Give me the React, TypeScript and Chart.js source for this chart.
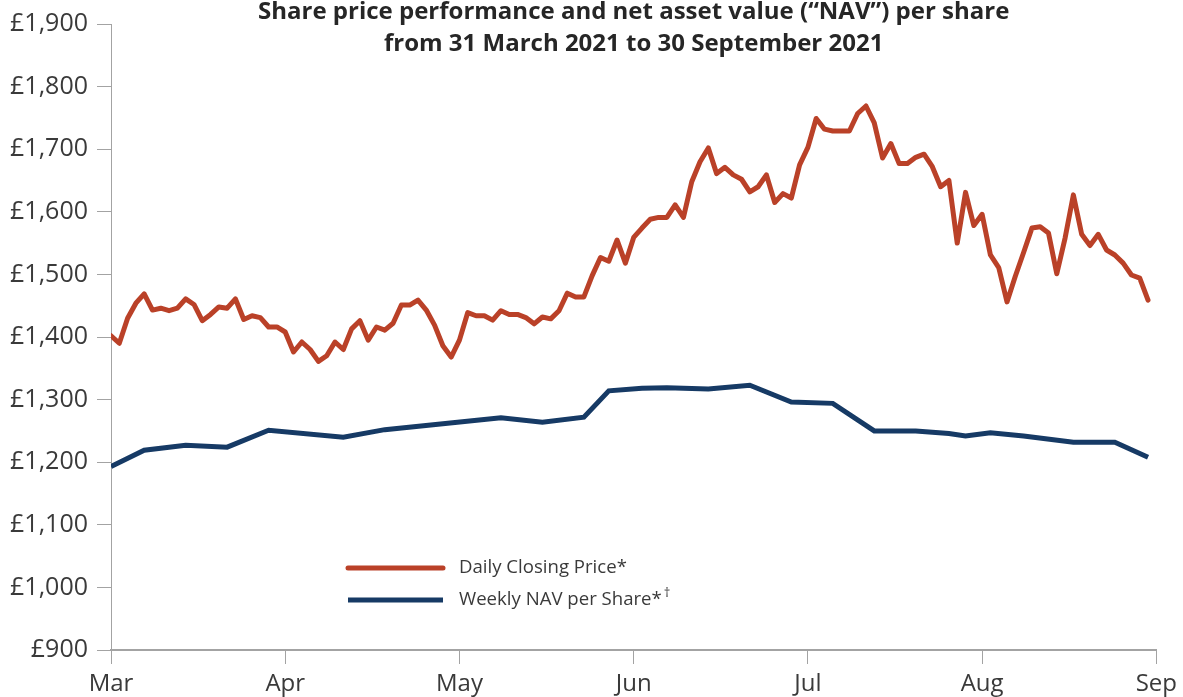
import React, { useEffect, useRef } from 'react';
import { Chart, registerables } from 'chart.js';

Chart.register(...registerables);

// ---- Data ----
const MONTH_LABELS = ['Mar', 'Apr', 'May', 'Jun', 'Jul', 'Aug', 'Sep'];
const TRADING_DAYS_PER_MONTH = 21;
const X_MAX = 126;
const Y_MIN = 900;
const Y_MAX = 1900;
const Y_STEP = 100;

const TITLE_LINES = [
  'Share price performance and net asset value (\u201CNAV\u201D) per share',
  'from 31 March 2021 to 30 September 2021',
];

const PRICE_LABEL = 'Daily Closing Price*';
const NAV_LABEL = 'Weekly NAV per Share*\u2020';

// Daily closing price, one value per trading day (index 0..125)
const PRICE = [
  1402, 1390, 1430, 1454, 1469, 1443, 1446, 1442, 1446, 1461,
  1452, 1426, 1436, 1448, 1446, 1461, 1428, 1434, 1431, 1416,
  1416, 1408, 1376, 1392, 1380, 1361, 1370, 1392, 1380, 1413,
  1426, 1395, 1416, 1411, 1422, 1451, 1451, 1459, 1443, 1419,
  1386, 1368, 1395, 1439, 1434, 1434, 1427, 1442, 1436, 1436,
  1431, 1421, 1432, 1429, 1442, 1470, 1464, 1464, 1498, 1527,
  1521, 1555, 1518, 1559, 1574, 1588, 1591, 1591, 1611, 1591,
  1648, 1680, 1702, 1661, 1671, 1659, 1652, 1632, 1640, 1659,
  1615, 1629, 1622, 1675, 1703, 1749, 1732, 1729, 1729, 1729,
  1757, 1769, 1742, 1686, 1709, 1677, 1677, 1687, 1692, 1672,
  1640, 1650, 1550, 1631, 1578, 1596, 1531, 1511, 1456, 1497,
  1535, 1574, 1576, 1566, 1501, 1558, 1627, 1564, 1546, 1564,
  1539, 1531, 1518, 1499, 1494, 1459,
];

// Weekly NAV: trading-day index and value
const NAV_DAY = [0, 4, 9, 14, 19, 28, 33, 47, 52, 57, 60, 64, 67, 72, 77, 82, 87, 92, 97, 101, 103, 106, 110, 116, 121, 125];
const NAV = [1193, 1219, 1227, 1224, 1251, 1240, 1252, 1271, 1264, 1272, 1314, 1318, 1319, 1317, 1323, 1296, 1294, 1250, 1250, 1246, 1242, 1247, 1242, 1232, 1232, 1208];

// ---- Styles ----
const RED = '#BA4128';
const BLUE = '#163A65';
const AXIS_GRAY = '#A3A3A3';
const TEXT_COLOR = '#3A3A3A';
const TITLE_COLOR = '#262626';
const FONT_FAMILY = '"Open Sans", "Noto Sans", sans-serif';

const overlayPlugin = {
  id: 'overlay',
  afterDraw(chart: any) {
    const { ctx, chartArea } = chart;
    ctx.save();
    // Title
    ctx.fillStyle = TITLE_COLOR;
    ctx.font = `bold 24px ${FONT_FAMILY}`;
    ctx.textAlign = 'center';
    ctx.textBaseline = 'alphabetic';
    const cx = (chartArea.left + chartArea.right) / 2;
    TITLE_LINES.forEach((t, i) => ctx.fillText(t, cx, 19 + i * 32));

    // Legend
    const lx0 = chartArea.left + 237;
    const lx1 = chartArea.left + 332;
    const tx = chartArea.left + 348;
    chart.data.datasets.forEach((ds: any, i: number) => {
      const y = 568 + i * 32;
      ctx.strokeStyle = ds.borderColor;
      ctx.lineWidth = 5;
      ctx.lineCap = i === 0 ? 'round' : 'butt';
      ctx.beginPath();
      ctx.moveTo(lx0, y);
      ctx.lineTo(lx1, y);
      ctx.stroke();
      ctx.fillStyle = TEXT_COLOR;
      ctx.textAlign = 'left';
      ctx.textBaseline = 'middle';
      ctx.font = `18.6px ${FONT_FAMILY}`;
      let label: string = ds.label;
      let sup = '';
      if (label.endsWith('\u2020')) {
        sup = '\u2020';
        label = label.slice(0, -1);
      }
      ctx.fillText(label, tx, y);
      if (sup) {
        const w = ctx.measureText(label).width;
        ctx.font = `13px ${FONT_FAMILY}`;
        ctx.fillText(sup, tx + w + 2, y - 7);
      }
    });
    ctx.restore();
  },
};

export default function App() {
  const canvasRef = useRef<HTMLCanvasElement | null>(null);

  useEffect(() => {
    const canvas = canvasRef.current;
    if (!canvas) return;
    const chart = new Chart(canvas, {
      type: 'line',
      data: {
        datasets: [
          {
            label: PRICE_LABEL,
            data: PRICE.map((v, i) => ({ x: i, y: v })),
            borderColor: RED,
            backgroundColor: RED,
            borderWidth: 5,
            pointRadius: 0,
            tension: 0,
            borderJoinStyle: 'round',
            borderCapStyle: 'round',
          },
          {
            label: NAV_LABEL,
            data: NAV_DAY.map((d, i) => ({ x: d, y: NAV[i] })),
            borderColor: BLUE,
            backgroundColor: BLUE,
            borderWidth: 5,
            pointRadius: 0,
            tension: 0,
            borderJoinStyle: 'miter',
          },
        ],
      },
      options: {
        responsive: false,
        animation: false,
        devicePixelRatio: 1,
        layout: { padding: { top: 24, right: 23, bottom: 0, left: 0 } },
        plugins: {
          legend: { display: false },
          title: { display: false },
          tooltip: { enabled: false },
        },
        scales: {
          x: {
            type: 'linear',
            min: 0,
            max: X_MAX,
            afterBuildTicks: (scale: any) => {
              scale.ticks = MONTH_LABELS.map((_, i) => ({ value: i * TRADING_DAYS_PER_MONTH }));
            },
            ticks: {
              autoSkip: false,
              maxRotation: 0,
              padding: 6,
              color: TEXT_COLOR,
              font: { family: FONT_FAMILY, size: 24 },
              callback: (v: any) => MONTH_LABELS[Math.round(Number(v) / TRADING_DAYS_PER_MONTH)],
            },
            grid: { drawOnChartArea: false, drawTicks: true, tickLength: 14, color: AXIS_GRAY, lineWidth: 1 },
            border: { display: true, color: AXIS_GRAY, width: 2 },
            afterFit: (s: any) => {
              s.height = 47;
            },
          },
          y: {
            min: Y_MIN,
            max: Y_MAX,
            ticks: {
              stepSize: Y_STEP,
              padding: 9,
              color: TEXT_COLOR,
              font: { family: FONT_FAMILY, size: 25 },
              callback: (v: any) => '\u00A3' + Number(v).toLocaleString('en-GB'),
            },
            grid: { drawOnChartArea: false, drawTicks: true, tickLength: 14, color: AXIS_GRAY, lineWidth: 1 },
            border: { display: true, color: AXIS_GRAY, width: 1 },
            afterFit: (s: any) => {
              s.width = 111;
            },
          },
        },
      },
      plugins: [overlayPlugin],
    } as any);
    return () => chart.destroy();
  }, []);

  return (
    <div style={{ position: 'fixed', left: 0, top: 0, width: 1183, height: 697, background: '#fff' }}>
      <canvas ref={canvasRef} width={1183} height={697} style={{ width: 1183, height: 697, display: 'block' }} />
    </div>
  );
}
